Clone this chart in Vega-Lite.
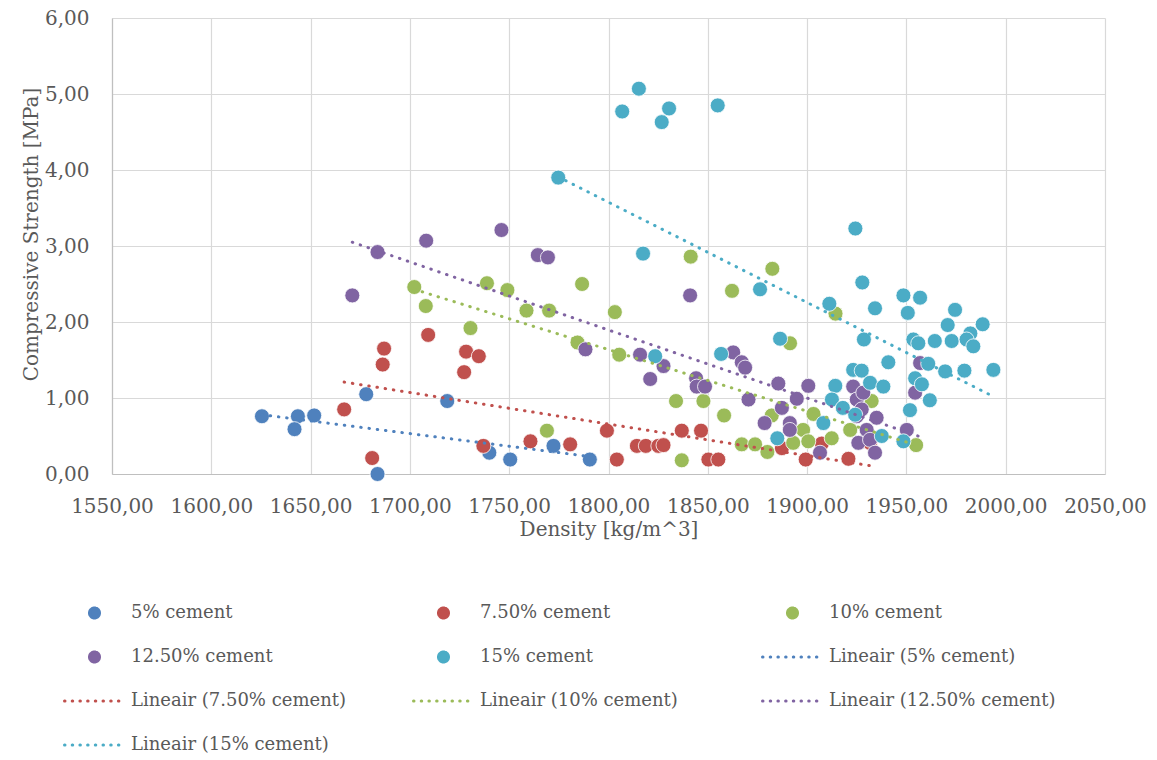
{
  "$schema": "https://vega.github.io/schema/vega-lite/v6.json",
  "width": 993,
  "height": 456,
  "autosize": {"type": "none"},
  "padding": {"left": 112, "top": 18, "right": 52, "bottom": 286},
  "background": "white",
  "config": {
    "view": {"stroke": null},
    "font": "DejaVu Serif",
    "axis": {
      "labelFont": "DejaVu Serif", "titleFont": "DejaVu Serif",
      "labelFontSize": 20, "titleFontSize": 20, "titleFontWeight": "normal",
      "labelColor": "#595959", "titleColor": "#595959",
      "gridColor": "#D9D9D9", "gridWidth": 1.2, "domainColor": "#BFBFBF", "domainWidth": 1.2,
      "ticks": false
    }
  },
  "datasets": {
    "pts": [
      {"series": "5% cement", "x": 1625.5, "y": 0.76},
      {"series": "5% cement", "x": 1643.6, "y": 0.76},
      {"series": "5% cement", "x": 1641.9, "y": 0.59},
      {"series": "5% cement", "x": 1651.8, "y": 0.77},
      {"series": "5% cement", "x": 1678.0, "y": 1.05},
      {"series": "5% cement", "x": 1683.7, "y": 0.00},
      {"series": "5% cement", "x": 1718.8, "y": 0.96},
      {"series": "5% cement", "x": 1740.0, "y": 0.28},
      {"series": "5% cement", "x": 1750.5, "y": 0.19},
      {"series": "5% cement", "x": 1772.3, "y": 0.37},
      {"series": "5% cement", "x": 1790.6, "y": 0.19},
      {"series": "7.50% cement", "x": 1666.9, "y": 0.85},
      {"series": "7.50% cement", "x": 1681.0, "y": 0.21},
      {"series": "7.50% cement", "x": 1687.0, "y": 1.65},
      {"series": "7.50% cement", "x": 1686.3, "y": 1.44},
      {"series": "7.50% cement", "x": 1709.2, "y": 1.83},
      {"series": "7.50% cement", "x": 1728.3, "y": 1.61},
      {"series": "7.50% cement", "x": 1734.7, "y": 1.55},
      {"series": "7.50% cement", "x": 1727.3, "y": 1.34},
      {"series": "7.50% cement", "x": 1737.0, "y": 0.37},
      {"series": "7.50% cement", "x": 1760.7, "y": 0.43},
      {"series": "7.50% cement", "x": 1780.7, "y": 0.39},
      {"series": "7.50% cement", "x": 1799.2, "y": 0.57},
      {"series": "7.50% cement", "x": 1804.2, "y": 0.19},
      {"series": "7.50% cement", "x": 1814.3, "y": 0.37},
      {"series": "7.50% cement", "x": 1818.8, "y": 0.37},
      {"series": "7.50% cement", "x": 1825.1, "y": 0.37},
      {"series": "7.50% cement", "x": 1827.7, "y": 0.38},
      {"series": "7.50% cement", "x": 1836.9, "y": 0.57},
      {"series": "7.50% cement", "x": 1846.6, "y": 0.57},
      {"series": "7.50% cement", "x": 1850.3, "y": 0.19},
      {"series": "7.50% cement", "x": 1855.3, "y": 0.19},
      {"series": "7.50% cement", "x": 1887.3, "y": 0.34},
      {"series": "7.50% cement", "x": 1899.3, "y": 0.19},
      {"series": "7.50% cement", "x": 1907.4, "y": 0.40},
      {"series": "7.50% cement", "x": 1920.8, "y": 0.20},
      {"series": "7.50% cement", "x": 1931.7, "y": 0.41},
      {"series": "10% cement", "x": 1702.2, "y": 2.46},
      {"series": "10% cement", "x": 1708.0, "y": 2.21},
      {"series": "10% cement", "x": 1730.5, "y": 1.92},
      {"series": "10% cement", "x": 1738.8, "y": 2.51},
      {"series": "10% cement", "x": 1749.1, "y": 2.42},
      {"series": "10% cement", "x": 1758.7, "y": 2.15},
      {"series": "10% cement", "x": 1769.0, "y": 0.57},
      {"series": "10% cement", "x": 1770.1, "y": 2.15},
      {"series": "10% cement", "x": 1784.4, "y": 1.73},
      {"series": "10% cement", "x": 1786.7, "y": 2.50},
      {"series": "10% cement", "x": 1803.2, "y": 2.13},
      {"series": "10% cement", "x": 1805.4, "y": 1.57},
      {"series": "10% cement", "x": 1834.0, "y": 0.96},
      {"series": "10% cement", "x": 1836.9, "y": 0.18},
      {"series": "10% cement", "x": 1841.4, "y": 2.86},
      {"series": "10% cement", "x": 1847.8, "y": 0.96},
      {"series": "10% cement", "x": 1858.2, "y": 0.77},
      {"series": "10% cement", "x": 1862.2, "y": 2.41},
      {"series": "10% cement", "x": 1867.1, "y": 0.39},
      {"series": "10% cement", "x": 1873.8, "y": 0.39},
      {"series": "10% cement", "x": 1880.0, "y": 0.29},
      {"series": "10% cement", "x": 1882.2, "y": 0.77},
      {"series": "10% cement", "x": 1882.5, "y": 2.70},
      {"series": "10% cement", "x": 1891.4, "y": 1.72},
      {"series": "10% cement", "x": 1893.0, "y": 0.41},
      {"series": "10% cement", "x": 1898.0, "y": 0.58},
      {"series": "10% cement", "x": 1900.6, "y": 0.43},
      {"series": "10% cement", "x": 1903.2, "y": 0.79},
      {"series": "10% cement", "x": 1912.4, "y": 0.47},
      {"series": "10% cement", "x": 1914.3, "y": 2.11},
      {"series": "10% cement", "x": 1921.7, "y": 0.58},
      {"series": "10% cement", "x": 1932.5, "y": 0.96},
      {"series": "10% cement", "x": 1954.9, "y": 0.38},
      {"series": "12.50% cement", "x": 1671.0, "y": 2.35},
      {"series": "12.50% cement", "x": 1683.7, "y": 2.92},
      {"series": "12.50% cement", "x": 1708.2, "y": 3.07},
      {"series": "12.50% cement", "x": 1746.1, "y": 3.21},
      {"series": "12.50% cement", "x": 1764.4, "y": 2.88},
      {"series": "12.50% cement", "x": 1769.5, "y": 2.85},
      {"series": "12.50% cement", "x": 1788.4, "y": 1.64},
      {"series": "12.50% cement", "x": 1815.9, "y": 1.57},
      {"series": "12.50% cement", "x": 1821.0, "y": 1.25},
      {"series": "12.50% cement", "x": 1827.7, "y": 1.42},
      {"series": "12.50% cement", "x": 1841.1, "y": 2.35},
      {"series": "12.50% cement", "x": 1844.1, "y": 1.26},
      {"series": "12.50% cement", "x": 1844.4, "y": 1.15},
      {"series": "12.50% cement", "x": 1848.6, "y": 1.15},
      {"series": "12.50% cement", "x": 1862.8, "y": 1.60},
      {"series": "12.50% cement", "x": 1867.1, "y": 1.47},
      {"series": "12.50% cement", "x": 1868.8, "y": 1.40},
      {"series": "12.50% cement", "x": 1870.5, "y": 0.98},
      {"series": "12.50% cement", "x": 1878.6, "y": 0.67},
      {"series": "12.50% cement", "x": 1885.5, "y": 1.19},
      {"series": "12.50% cement", "x": 1887.3, "y": 0.87},
      {"series": "12.50% cement", "x": 1891.3, "y": 0.67},
      {"series": "12.50% cement", "x": 1891.3, "y": 0.58},
      {"series": "12.50% cement", "x": 1894.8, "y": 0.99},
      {"series": "12.50% cement", "x": 1900.6, "y": 1.16},
      {"series": "12.50% cement", "x": 1906.5, "y": 0.28},
      {"series": "12.50% cement", "x": 1923.2, "y": 1.15},
      {"series": "12.50% cement", "x": 1925.0, "y": 0.98},
      {"series": "12.50% cement", "x": 1925.0, "y": 0.76},
      {"series": "12.50% cement", "x": 1925.8, "y": 0.41},
      {"series": "12.50% cement", "x": 1927.5, "y": 0.85},
      {"series": "12.50% cement", "x": 1928.3, "y": 1.07},
      {"series": "12.50% cement", "x": 1930.0, "y": 0.58},
      {"series": "12.50% cement", "x": 1931.7, "y": 0.45},
      {"series": "12.50% cement", "x": 1934.2, "y": 0.28},
      {"series": "12.50% cement", "x": 1935.0, "y": 0.74},
      {"series": "12.50% cement", "x": 1950.2, "y": 0.58},
      {"series": "12.50% cement", "x": 1954.4, "y": 1.07},
      {"series": "12.50% cement", "x": 1956.9, "y": 1.46},
      {"series": "15% cement", "x": 1815.3, "y": 5.07},
      {"series": "15% cement", "x": 1806.9, "y": 4.77},
      {"series": "15% cement", "x": 1830.5, "y": 4.81},
      {"series": "15% cement", "x": 1826.8, "y": 4.63},
      {"series": "15% cement", "x": 1855.0, "y": 4.85},
      {"series": "15% cement", "x": 1774.7, "y": 3.90},
      {"series": "15% cement", "x": 1817.4, "y": 2.90},
      {"series": "15% cement", "x": 1924.3, "y": 3.23},
      {"series": "15% cement", "x": 1927.8, "y": 2.52},
      {"series": "15% cement", "x": 1876.3, "y": 2.43},
      {"series": "15% cement", "x": 1911.2, "y": 2.24},
      {"series": "15% cement", "x": 1886.4, "y": 1.78},
      {"series": "15% cement", "x": 1856.7, "y": 1.58},
      {"series": "15% cement", "x": 1823.5, "y": 1.55},
      {"series": "15% cement", "x": 1928.6, "y": 1.77},
      {"series": "15% cement", "x": 1923.2, "y": 1.37},
      {"series": "15% cement", "x": 1927.5, "y": 1.36},
      {"series": "15% cement", "x": 1914.2, "y": 1.16},
      {"series": "15% cement", "x": 1912.5, "y": 0.98},
      {"series": "15% cement", "x": 1918.0, "y": 0.87},
      {"series": "15% cement", "x": 1924.2, "y": 0.78},
      {"series": "15% cement", "x": 1908.2, "y": 0.67},
      {"series": "15% cement", "x": 1885.0, "y": 0.47},
      {"series": "15% cement", "x": 1948.5, "y": 2.35},
      {"series": "15% cement", "x": 1956.9, "y": 2.32},
      {"series": "15% cement", "x": 1950.7, "y": 2.12},
      {"series": "15% cement", "x": 1934.2, "y": 2.18},
      {"series": "15% cement", "x": 1974.5, "y": 2.16},
      {"series": "15% cement", "x": 1970.8, "y": 1.96},
      {"series": "15% cement", "x": 1988.4, "y": 1.97},
      {"series": "15% cement", "x": 1982.2, "y": 1.85},
      {"series": "15% cement", "x": 1953.5, "y": 1.77},
      {"series": "15% cement", "x": 1956.0, "y": 1.72},
      {"series": "15% cement", "x": 1964.3, "y": 1.75},
      {"series": "15% cement", "x": 1972.8, "y": 1.75},
      {"series": "15% cement", "x": 1980.3, "y": 1.77},
      {"series": "15% cement", "x": 1983.7, "y": 1.68},
      {"series": "15% cement", "x": 1940.9, "y": 1.47},
      {"series": "15% cement", "x": 1961.0, "y": 1.45},
      {"series": "15% cement", "x": 1969.5, "y": 1.35},
      {"series": "15% cement", "x": 1979.2, "y": 1.36},
      {"series": "15% cement", "x": 1993.8, "y": 1.37},
      {"series": "15% cement", "x": 1931.7, "y": 1.20},
      {"series": "15% cement", "x": 1938.4, "y": 1.15},
      {"series": "15% cement", "x": 1954.4, "y": 1.26},
      {"series": "15% cement", "x": 1957.8, "y": 1.18},
      {"series": "15% cement", "x": 1961.8, "y": 0.97},
      {"series": "15% cement", "x": 1951.8, "y": 0.84},
      {"series": "15% cement", "x": 1937.6, "y": 0.50},
      {"series": "15% cement", "x": 1948.5, "y": 0.43}
    ],
    "trend": [
      {"series": "Lineair (5% cement)", "x": 1625.5, "y": 0.78},
      {"series": "Lineair (5% cement)", "x": 1790.6, "y": 0.23},
      {"series": "Lineair (7.50% cement)", "x": 1666.9, "y": 1.21},
      {"series": "Lineair (7.50% cement)", "x": 1931.7, "y": 0.11},
      {"series": "Lineair (10% cement)", "x": 1702.2, "y": 2.43},
      {"series": "Lineair (10% cement)", "x": 1954.9, "y": 0.38},
      {"series": "Lineair (12.50% cement)", "x": 1671.0, "y": 3.05},
      {"series": "Lineair (12.50% cement)", "x": 1956.9, "y": 0.49},
      {"series": "Lineair (15% cement)", "x": 1774.7, "y": 3.91},
      {"series": "Lineair (15% cement)", "x": 1993.8, "y": 1.02}
    ]
  },
  "encoding": {
    "x": {
      "field": "x", "type": "quantitative",
      "scale": {"domain": [1550, 2050], "nice": false, "zero": false},
      "axis": {
        "title": "Density [kg/m^3]",
        "values": [1550, 1600, 1650, 1700, 1750, 1800, 1850, 1900, 1950, 2000, 2050],
        "labelExpr": "replace(format(datum.value, '.2f'), '.', ',')",
        "labelPadding": 22, "titlePadding": 3, "labelFlush": false, "labelOverlap": false, "grid": true
      }
    },
    "y": {
      "field": "y", "type": "quantitative",
      "scale": {"domain": [0, 6], "nice": false, "zero": true},
      "axis": {
        "title": "Compressive Strength [MPa]",
        "values": [0, 1, 2, 3, 4, 5, 6],
        "labelExpr": "replace(format(datum.value, '.2f'), '.', ',')",
        "labelPadding": 23, "titlePadding": 3, "titleY": 216, "grid": true
      }
    },
    "color": {
      "field": "series", "type": "nominal",
      "scale": {
        "domain": ["5% cement", "7.50% cement", "10% cement", "12.50% cement", "15% cement",
                   "Lineair (5% cement)", "Lineair (7.50% cement)", "Lineair (10% cement)", "Lineair (12.50% cement)", "Lineair (15% cement)"],
        "range": ["#4F81BD", "#C0504D", "#9BBB59", "#8064A2", "#4BACC6",
                  "#4F81BD", "#C0504D", "#9BBB59", "#8064A2", "#4BACC6"]
      },
      "legend": {
        "title": null,
        "orient": "none",
        "legendX": -49,
        "legendY": 585,
        "direction": "horizontal",
        "columns": 3,
        "gridAlign": "all",
        "columnPadding": 54,
        "rowPadding": 24,
        "clipHeight": 20,
        "padding": 0,
        "symbolType": "stroke",
        "symbolSize": 3600,
        "symbolStrokeWidth": 3,
        "symbolOffset": 0,
        "labelOffset": 5,
        "labelFont": "DejaVu Serif",
        "labelFontSize": 18,
        "labelColor": "#595959",
        "labelLimit": 400,
        "encode": {
          "symbols": {
            "update": {
              "shape": {"signal": "indexof(datum.value, 'Lineair') === 0 ? 'stroke' : 'M0.1667,0A0.1667,0.1667,0,1,1,-0.1667,0A0.1667,0.1667,0,1,1,0.1667,0Z'"},
              "fill": {"signal": "indexof(datum.value, 'Lineair') === 0 ? 'transparent' : scale('color', datum.value)"},
              "stroke": {"signal": "scale('color', datum.value)"},
              "strokeDash": {"signal": "indexof(datum.value, 'Lineair') === 0 ? [0.5, 7.2] : [1, 0]"},
              "strokeCap": {"value": "round"},
              "opacity": {"value": 1}
            }
          }
        }
      }
    }
  },
  "layer": [
    {
      "data": {"name": "pts"},
      "mark": {"type": "circle", "size": 225, "opacity": 1, "stroke": "white", "strokeWidth": 0.8}
    },
    {
      "data": {"name": "trend"},
      "mark": {"type": "line", "strokeDash": [0.5, 7.8], "strokeCap": "round", "strokeWidth": 3}
    }
  ]
}
